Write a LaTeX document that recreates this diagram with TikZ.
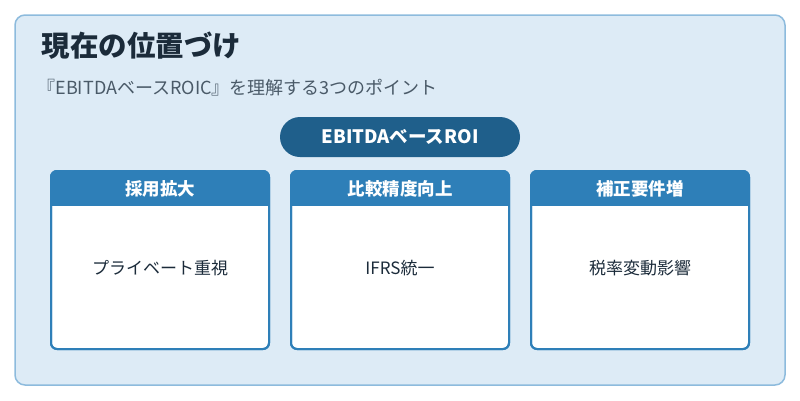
\documentclass[tikz,border=0pt]{standalone}
\usepackage{fontspec}
\setmainfont{Noto Sans CJK JP}
\usepackage{tikz}
\usetikzlibrary{positioning}
\definecolor{panelbg}{HTML}{DDEBF6}
\definecolor{panelline}{HTML}{8DBBDD}
\definecolor{pillblue}{HTML}{1F5F8B}
\definecolor{headblue}{HTML}{2E7FB8}
\definecolor{titletext}{HTML}{1B2B3A}
\definecolor{subtext}{HTML}{4A5A68}
\tikzset{
  card/.style={draw=headblue, line width=2pt, fill=white, rounded corners=6pt,
    minimum width=218pt, minimum height=178pt, inner sep=0pt},
  cardhead/.style={fill=headblue, text=white, font=\bfseries\fontsize{17.5}{20}\selectfont,
    minimum width=218pt, minimum height=35pt, inner sep=0pt},
  cardbody/.style={text=titletext, font=\fontsize{17}{20}\selectfont}
}
\begin{document}
\begin{tikzpicture}[x=1pt,y=-1pt]
    % Background panel
    \useasboundingbox (0,0) rectangle (800,400);
    \draw[panelline, fill=panelbg, line width=1.5pt, rounded corners=10pt] (15,15) rectangle (785,385);

    % Title and subtitle
    \node[anchor=west, text=titletext, font=\bfseries\fontsize{28.5}{32}\selectfont] (title) at (38,46) {現在の位置づけ};
    \node[anchor=west, text=subtext, font=\fontsize{18}{21}\selectfont] (subtitle) at (34,88) {『EBITDAベースROIC』を理解する3つのポイント};

    % Central pill
    \node[fill=pillblue, text=white, rounded corners=20pt, minimum width=240pt, minimum height=40pt,
      font=\bfseries\fontsize{18.5}{21}\selectfont] (pill) at (400,137) {EBITDAベースROI};

    % Cards
    \foreach \cx/\head/\body [count=\i] in {160/採用拡大/プライベート重視, 400/比較精度向上/IFRS統一, 640/補正要件増/税率変動影響} {
        \node[card] (card\i) at (\cx,260) {};
        \begin{scope}
            \clip[rounded corners=6pt] (\cx-109,171) rectangle (\cx+109,349);
            \node[cardhead, anchor=north] (head\i) at (\cx,171) {\head};
        \end{scope}
        \draw[headblue, line width=2pt, rounded corners=6pt] (\cx-109,171) rectangle (\cx+109,349);
        \node[cardbody] (body\i) at (\cx,268) {\body};
    }
\end{tikzpicture}
\end{document}
